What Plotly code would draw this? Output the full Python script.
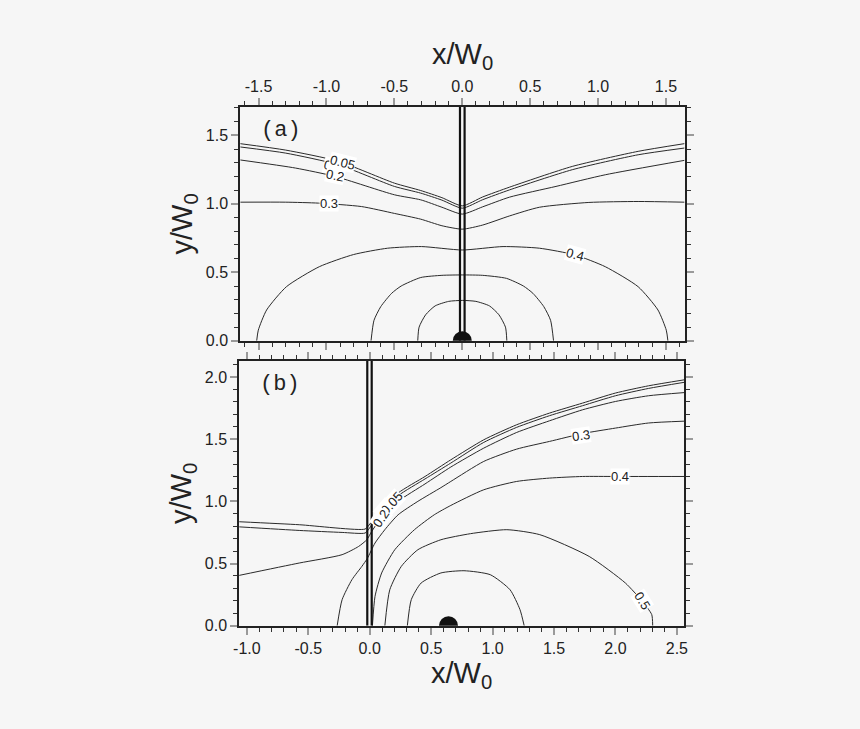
import plotly.graph_objects as go

# ---------------- data ----------------
# Panel (a): contour lines (x/W0, y/W0)
A_C005_X = [-1.635, -1.3, -0.912, -0.5, -0.306, -0.15, 0.0, 0.15, 0.349, 0.81, 1.295, 1.635]
A_C005_Y = [1.439, 1.392, 1.31, 1.151, 1.097, 1.045, 0.985, 1.05, 1.122, 1.273, 1.383, 1.439]
A_C01_X = [-1.635, -1.3, -0.912, -0.5, -0.306, -0.15, 0.0, 0.15, 0.349, 0.81, 1.295, 1.635]
A_C01_Y = [1.415, 1.37, 1.285, 1.127, 1.078, 1.027, 0.968, 1.03, 1.102, 1.249, 1.358, 1.407]
A_C02_X = [-1.635, -1.228, -0.937, -0.5, -0.306, -0.15, 0.0, 0.15, 0.349, 0.69, 1.053, 1.635]
A_C02_Y = [1.32, 1.261, 1.2, 1.066, 1.029, 0.975, 0.925, 0.978, 1.049, 1.127, 1.212, 1.317]
A_C03_X = [-1.635, -1.3, -1.058, -0.742, -0.5, -0.306, -0.15, 0.0, 0.15, 0.349, 0.568, 0.932, 1.295, 1.635]
A_C03_Y = [1.012, 1.012, 1.005, 0.98, 0.93, 0.888, 0.84, 0.815, 0.845, 0.912, 0.975, 1.01, 1.017, 1.012]
A_C04_X = [-1.514, -1.502, -1.441, -1.295, -1.053, -0.8, -0.55, -0.3, 0.0, 0.3, 0.568, 0.83, 1.053, 1.295, 1.441, 1.502, 1.514]
A_C04_Y = [0.0, 0.078, 0.225, 0.395, 0.541, 0.63, 0.676, 0.688, 0.663, 0.688, 0.676, 0.627, 0.541, 0.395, 0.225, 0.078, 0.0]
A_C05_X = [-0.672, -0.65, -0.6, -0.52, -0.45, -0.306, -0.15, 0.0, 0.15, 0.325, 0.45, 0.52, 0.6, 0.65, 0.672]
A_C05_Y = [0.0, 0.15, 0.25, 0.347, 0.40, 0.462, 0.478, 0.481, 0.478, 0.456, 0.40, 0.347, 0.25, 0.15, 0.0]
A_C06_X = [-0.328, -0.318, -0.27, -0.2, -0.1, 0.0, 0.1, 0.2, 0.27, 0.318, 0.328]
A_C06_Y = [0.0, 0.1, 0.19, 0.255, 0.288, 0.295, 0.288, 0.255, 0.19, 0.1, 0.0]
A_WALL_X = [-0.017, 0.017]
A_WALL_Y = [0.0, 1.71]
A_SRC_X = [0.0]
A_SRC_Y = [0.0]
A_LABEL_TEXT = ["0.1", "0.05", "0.2", "0.3", "0.4"]
A_LABEL_X = [-0.95, -0.88, -0.937, -0.98, 0.83]
A_LABEL_Y = [1.275, 1.305, 1.205, 1.0, 0.627]
A_LABEL_ANGLE = [14, 14, 12, 0, 15]

# Panel (b): contour lines
B_C005_X = [-1.065, -0.574, -0.038, -0.005, 0.05, 0.231, 0.45, 0.66, 0.928, 1.196, 1.464, 1.732, 2.0, 2.269, 2.565]
B_C005_Y = [0.836, 0.812, 0.777, 0.81, 0.88, 1.067, 1.2, 1.334, 1.495, 1.616, 1.71, 1.79, 1.871, 1.929, 1.978]
B_C01_X = [-1.065, -0.574, -0.225, -0.038, -0.005, 0.05, 0.231, 0.45, 0.66, 0.928, 1.196, 1.464, 1.732, 2.0, 2.269, 2.565]
B_C01_Y = [0.795, 0.766, 0.75, 0.745, 0.78, 0.86, 1.045, 1.18, 1.308, 1.474, 1.595, 1.689, 1.769, 1.849, 1.908, 1.958]
B_C02_X = [-1.065, -0.574, -0.225, -0.091, -0.024, 0.016, 0.08, 0.231, 0.45, 0.66, 0.928, 1.196, 1.464, 1.732, 2.0, 2.269, 2.565]
B_C02_Y = [0.404, 0.504, 0.571, 0.637, 0.691, 0.758, 0.85, 1.0, 1.14, 1.276, 1.428, 1.554, 1.648, 1.736, 1.803, 1.849, 1.875]
B_C03_X = [-0.265, -0.225, -0.145, -0.064, -0.02, 0.043, 0.123, 0.231, 0.392, 0.579, 0.66, 0.928, 1.196, 1.464, 1.732, 2.0, 2.269, 2.565]
B_C03_Y = [0.0, 0.209, 0.37, 0.477, 0.54, 0.665, 0.772, 0.892, 1.0, 1.11, 1.16, 1.321, 1.42, 1.482, 1.545, 1.589, 1.63, 1.645]
B_C04_X = [0.022, 0.043, 0.097, 0.204, 0.364, 0.525, 0.66, 0.928, 1.196, 1.464, 1.732, 2.0, 2.565]
B_C04_Y = [0.0, 0.236, 0.424, 0.611, 0.772, 0.892, 0.967, 1.093, 1.16, 1.187, 1.2, 1.2, 1.2]
B_C05_X = [0.123, 0.163, 0.257, 0.392, 0.579, 0.82, 1.116, 1.384, 1.786, 2.081, 2.215, 2.295, 2.303]
B_C05_Y = [0.0, 0.289, 0.477, 0.611, 0.691, 0.74, 0.772, 0.732, 0.557, 0.343, 0.2, 0.09, 0.0]
B_C06_X = [0.306, 0.338, 0.418, 0.579, 0.767, 0.981, 1.142, 1.223, 1.257]
B_C06_Y = [0.0, 0.209, 0.343, 0.424, 0.442, 0.41, 0.289, 0.129, 0.0]
B_WALL_X = [-0.02, 0.016]
B_WALL_Y = [0.0, 2.14]
B_SRC_X = [0.641]
B_SRC_Y = [0.0]
B_LABEL_TEXT = ["0.1", "0.05", "0.2", "0.3", "0.4", "0.5"]
B_LABEL_X = [0.123, 0.175, 0.092, 1.72, 2.04, 2.215]
B_LABEL_Y = [0.935, 0.985, 0.862, 1.53, 1.2, 0.2]
B_LABEL_ANGLE = [-50, -48, -55, -8, 0, 58]

# Tick labels
A_XTICK_VALS = [-1.5, -1.0, -0.5, 0.0, 0.5, 1.0, 1.5]
A_XTICK_TEXT = ["-1.5", "-1.0", "-0.5", "0.0", "0.5", "1.0", "1.5"]
A_YTICK_VALS = [0.0, 0.5, 1.0, 1.5]
A_YTICK_TEXT = ["0.0", "0.5", "1.0", "1.5"]
B_XTICK_VALS = [-1.0, -0.5, 0.0, 0.5, 1.0, 1.5, 2.0, 2.5]
B_XTICK_TEXT = ["-1.0", "-0.5", "0.0", "0.5", "1.0", "1.5", "2.0", "2.5"]
B_YTICK_VALS = [0.0, 0.5, 1.0, 1.5, 2.0]
B_YTICK_TEXT = ["0.0", "0.5", "1.0", "1.5", "2.0"]

# ---------------- figure ----------------
BG = "#f6f6f6"
LINE = "#2a2a2a"
FONT = "Liberation Sans, Arial, sans-serif"
MONO = "Liberation Mono, Courier New, monospace"
W, H = 860, 729
VS = 1.012  # vertical placement correction


def ydom(top_px, bot_px):
    return [1 - bot_px * VS / H, 1 - top_px * VS / H]


fig = go.Figure()


def add_line(xs, ys, xa, ya, width=1.0, color=LINE, shape="spline"):
    fig.add_trace(go.Scatter(
        x=xs, y=ys, mode="lines", xaxis=xa, yaxis=ya,
        line=dict(color=color, width=width, shape=shape, smoothing=0.6),
        hoverinfo="skip", showlegend=False))


for xs, ys in [(A_C005_X, A_C005_Y), (A_C01_X, A_C01_Y), (A_C02_X, A_C02_Y),
               (A_C03_X, A_C03_Y), (A_C04_X, A_C04_Y), (A_C05_X, A_C05_Y),
               (A_C06_X, A_C06_Y)]:
    add_line(xs, ys, "x", "y")
for wx in A_WALL_X:
    add_line([wx, wx], A_WALL_Y, "x", "y", width=2.2, color="#111", shape="linear")
fig.add_trace(go.Scatter(x=A_SRC_X, y=A_SRC_Y, mode="markers", xaxis="x", yaxis="y",
                         marker=dict(size=19, color="#111"), cliponaxis=True,
                         hoverinfo="skip", showlegend=False))

for xs, ys in [(B_C005_X, B_C005_Y), (B_C01_X, B_C01_Y), (B_C02_X, B_C02_Y),
               (B_C03_X, B_C03_Y), (B_C04_X, B_C04_Y), (B_C05_X, B_C05_Y),
               (B_C06_X, B_C06_Y)]:
    add_line(xs, ys, "x2", "y2")
for wx in B_WALL_X:
    add_line([wx, wx], B_WALL_Y, "x2", "y2", width=2.2, color="#111", shape="linear")
fig.add_trace(go.Scatter(x=B_SRC_X, y=B_SRC_Y, mode="markers", xaxis="x2", yaxis="y2",
                         marker=dict(size=19, color="#111"), cliponaxis=True,
                         hoverinfo="skip", showlegend=False))

annotations = []
for t, x, y, a in zip(A_LABEL_TEXT, A_LABEL_X, A_LABEL_Y, A_LABEL_ANGLE):
    annotations.append(dict(text=t, x=x, y=y, xref="x", yref="y", showarrow=False,
                            xanchor="center", yanchor="middle",
                            textangle=a, bgcolor="white", borderpad=0,
                            font=dict(family=FONT, size=13, color="#222")))
for t, x, y, a in zip(B_LABEL_TEXT, B_LABEL_X, B_LABEL_Y, B_LABEL_ANGLE):
    annotations.append(dict(text=t, x=x, y=y, xref="x2", yref="y2", showarrow=False,
                            xanchor="center", yanchor="middle",
                            textangle=a, bgcolor="white", borderpad=0,
                            font=dict(family=FONT, size=13, color="#222")))
annotations.append(dict(text="(a)", x=0.091, y=0.9, xref="x domain", yref="y domain",
                        xanchor="center", yanchor="middle", showarrow=False,
                        font=dict(family=MONO, size=22, color="#222")))
annotations.append(dict(text="(b)", x=0.091, y=0.909, xref="x2 domain", yref="y2 domain",
                        xanchor="center", yanchor="middle", showarrow=False,
                        font=dict(family=MONO, size=22, color="#222")))

tickfont = dict(family=FONT, size=16, color="#222")
titlefont = dict(family=FONT, size=29, color="#222")


def axis(domain, rng, vals, text, minor_vals, anchor, title=None, side=None, standoff=8):
    d = dict(domain=domain, range=rng, anchor=anchor,
             tickmode="array", tickvals=vals, ticktext=text,
             ticks="outside", ticklen=7, tickwidth=2, tickcolor="#9a9a9a",
             minor=dict(tickmode="array", tickvals=minor_vals, ticks="outside",
                        ticklen=4, tickwidth=1, tickcolor="#333", showgrid=False),
             showline=True, linewidth=2, linecolor="#222", mirror="ticks",
             showgrid=False, zeroline=False, tickfont=tickfont, fixedrange=True)
    if side:
        d["side"] = side
    if title:
        d["title"] = dict(text=title, font=titlefont, standoff=standoff)
    return d


A_XMINOR = [round(-1.6 + 0.1 * i, 2) for i in range(33)]
A_YMINOR = [round(0.1 * i, 2) for i in range(18)]
B_XMINOR = [round(-1.0 + 0.1 * i, 2) for i in range(37)]
B_YMINOR = [round(0.1 * i, 2) for i in range(22)]

fig.update_layout(
    width=W, height=H,
    margin=dict(l=0, r=0, t=0, b=0),
    paper_bgcolor=BG, plot_bgcolor=BG,
    showlegend=False,
    xaxis=axis([237 / W, 687 / W], [-1.635, 1.64], A_XTICK_VALS, A_XTICK_TEXT, A_XMINOR,
               "y", title="x/W<sub>0</sub>", side="top", standoff=4),
    yaxis=axis(ydom(107, 341), [0, 1.707], A_YTICK_VALS, A_YTICK_TEXT, A_YMINOR,
               "x", title="y/W<sub>0</sub>", standoff=5),
    xaxis2=axis([236 / W, 686 / W], [-1.062, 2.558], B_XTICK_VALS, B_XTICK_TEXT, B_XMINOR,
                "y2", title="x/W<sub>0</sub>", standoff=4),
    yaxis2=axis(ydom(361, 626), [0, 2.13], B_YTICK_VALS, B_YTICK_TEXT, B_YMINOR,
                "x2", title="y/W<sub>0</sub>", standoff=5),
    annotations=annotations,
)

fig.write_html(
    "out.html",
    config={"displayModeBar": False, "responsive": False},
    post_script=("document.documentElement.style.margin='0px';"
                 "document.documentElement.style.background='" + BG + "';"
                 "document.body.style.margin='0px';"
                 "document.body.style.background='" + BG + "';"
                 "document.documentElement.style.overflow='hidden';"
                 "document.body.style.overflow='hidden';"),
)
